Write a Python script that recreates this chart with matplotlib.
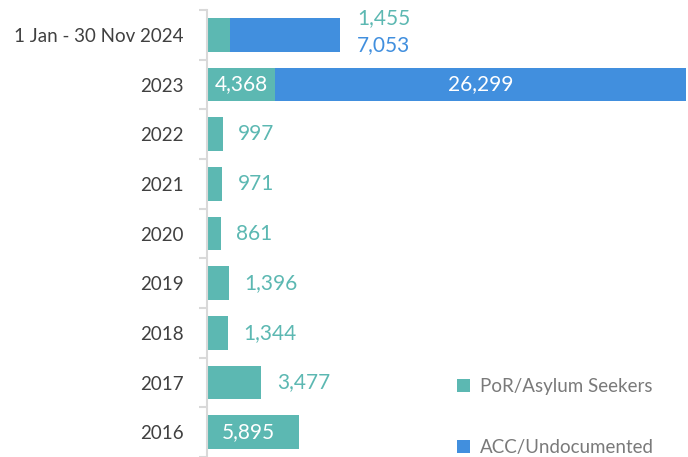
import matplotlib
matplotlib.use("Agg")
import matplotlib.pyplot as plt
import numpy as np

# Data
categories = ["1 Jan - 30 Nov 2024", "2023", "2022", "2021", "2020",
              "2019", "2018", "2017", "2016"]
por_values = [1455, 4368, 997, 971, 861, 1396, 1344, 3477, 5895]
acc_values = [7053, 26299, 0, 0, 0, 0, 0, 0, 0]
series_names = ["PoR/Asylum Seekers", "ACC/Undocumented"]

TEAL = "#5cb8b2"
BLUE = "#418fde"
TICK_GREY = "#404040"

plt.rcParams["font.family"] = ["Lato", "DejaVu Sans"]

fig = plt.figure(figsize=(6.88, 4.57), dpi=100)
ax = fig.add_axes([0.301, 0.0, 0.699, 0.978])

y = np.arange(len(categories))
por = np.array(por_values)
acc = np.array(acc_values)

ax.barh(y, por, height=0.68, color=TEAL, label=series_names[0])
ax.barh(y, acc, left=por, height=0.68, color=BLUE, label=series_names[1])

ax.set_xlim(0, 30800)
ax.set_ylim(len(categories) - 0.5, -0.5)

VAL_SIZE = 15
fmt = lambda v: f"{v:,}"
for i, (p, a) in enumerate(zip(por, acc)):
    total = p + a
    if a > 0 and p > 3000:
        # wide enough: labels inside each segment
        ax.text(p / 2, i, fmt(p), color="white", fontsize=VAL_SIZE,
                ha="center", va="center")
        ax.text(p + a / 2, i, fmt(a), color="white", fontsize=VAL_SIZE,
                ha="center", va="center")
    elif a > 0:
        ax.text(total + 1100, i - 0.34, fmt(p), color=TEAL, fontsize=VAL_SIZE,
                ha="left", va="center")
        ax.text(total + 1100, i + 0.2, fmt(a), color=BLUE, fontsize=VAL_SIZE,
                ha="left", va="center")
    elif p > 5000:
        ax.text(p / 2 - 300, i, fmt(p), color="white", fontsize=VAL_SIZE,
                ha="center", va="center")
    else:
        ax.text(p + 1000, i, fmt(p), color=TEAL, fontsize=VAL_SIZE,
                ha="left", va="center")

# axes styling
for side in ["top", "right", "bottom"]:
    ax.spines[side].set_visible(False)
ax.spines["left"].set_color("#d9d9d9")
ax.spines["left"].set_linewidth(1.5)
ax.set_xticks([])
ax.set_yticks(y)
ax.set_yticklabels(categories, fontsize=13.5, color=TICK_GREY)
ax.tick_params(axis="y", which="major", length=0, pad=17)
ax.set_yticks(np.arange(-0.5, len(categories)), minor=True)
ax.tick_params(axis="y", which="minor", length=6, width=1.5, color="#d9d9d9")

leg = ax.legend(loc="lower right", bbox_to_anchor=(0.965, -0.035), frameon=False,
                fontsize=13.5, handlelength=0.7, handleheight=0.7,
                handletextpad=0.55, labelspacing=2.35, labelcolor="#7a7a7a")

fig.savefig("out.png", dpi=100)
